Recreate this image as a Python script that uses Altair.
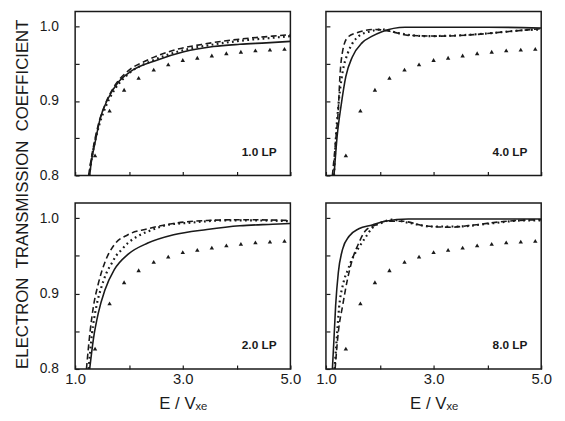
import altair as alt
import pandas as pd

# ---------------- data ----------------
X_TICKS = [1, 2, 3, 4, 5]
Y_TICKS = [0.8, 0.85, 0.9, 0.95, 1.0]
PANEL_LABELS = ["1.0 LP", "4.0 LP", "2.0 LP", "8.0 LP"]

# shared triangle series (same in every panel)
TRI_X = [1.37, 1.64, 1.91, 2.18, 2.46, 2.73, 3.0, 3.27, 3.54, 3.81, 4.08, 4.35, 4.62, 4.89]
TRI_Y = [0.827, 0.887, 0.915, 0.931, 0.942, 0.949, 0.955, 0.958, 0.961, 0.964, 0.966, 0.968, 0.969, 0.970]

# 1.0 LP
S1_X = [1.27, 1.30, 1.37, 1.46, 1.61, 1.80, 2.04, 2.53, 3.02, 3.57, 4.06, 4.55, 5.0]
S1_Y = [0.800, 0.818, 0.844, 0.875, 0.903, 0.925, 0.940, 0.955, 0.966, 0.973, 0.976, 0.978, 0.980]
D1_X = [1.25, 1.31, 1.43, 1.55, 1.73, 1.98, 2.35, 2.83, 3.45, 4.06, 4.67, 5.0]
D1_Y = [0.800, 0.827, 0.868, 0.894, 0.920, 0.940, 0.955, 0.968, 0.977, 0.983, 0.987, 0.989]
P1_X = [1.26, 1.32, 1.44, 1.56, 1.74, 2.0, 2.4, 2.9, 3.5, 4.1, 4.7, 5.0]
P1_Y = [0.800, 0.828, 0.866, 0.891, 0.916, 0.937, 0.953, 0.966, 0.975, 0.981, 0.985, 0.987]

# 4.0 LP
S4_X = [1.15, 1.21, 1.28, 1.37, 1.49, 1.67, 1.86, 2.04, 2.47, 3.0, 4.0, 5.0]
S4_Y = [0.800, 0.854, 0.893, 0.933, 0.959, 0.978, 0.987, 0.993, 0.999, 0.999, 0.999, 0.998]
D4_X = [1.12, 1.18, 1.23, 1.26, 1.31, 1.40, 1.55, 1.92, 2.22, 2.53, 3.14, 3.75, 4.36, 5.0]
D4_Y = [0.800, 0.846, 0.889, 0.933, 0.967, 0.985, 0.991, 0.996, 0.993, 0.988, 0.987, 0.989, 0.993, 0.997]
P4_X = [1.15, 1.18, 1.23, 1.31, 1.40, 1.49, 1.61, 1.80, 2.04, 2.35, 2.83, 3.45, 4.06, 4.67, 5.0]
P4_Y = [0.800, 0.845, 0.893, 0.939, 0.963, 0.977, 0.987, 0.993, 0.996, 0.991, 0.987, 0.988, 0.991, 0.995, 0.996]

# 2.0 LP
S2_X = [1.27, 1.34, 1.43, 1.55, 1.73, 1.98, 2.35, 2.83, 3.45, 4.06, 4.67, 5.0]
S2_Y = [0.800, 0.840, 0.874, 0.904, 0.932, 0.952, 0.967, 0.978, 0.985, 0.990, 0.992, 0.993]
D2_X = [1.21, 1.275, 1.34, 1.43, 1.55, 1.73, 1.98, 2.35, 2.83, 3.45, 4.06, 5.0]
D2_Y = [0.800, 0.848, 0.883, 0.913, 0.941, 0.965, 0.978, 0.986, 0.993, 0.997, 0.998, 0.997]
P2_X = [1.25, 1.31, 1.40, 1.49, 1.58, 1.67, 1.76, 1.86, 1.98, 2.16, 2.41, 2.71, 3.14, 3.75, 4.36, 5.0]
P2_Y = [0.800, 0.845, 0.885, 0.909, 0.927, 0.939, 0.950, 0.958, 0.967, 0.976, 0.984, 0.991, 0.994, 0.997, 0.997, 0.996]

# 8.0 LP
S8_X = [1.12, 1.15, 1.18, 1.23, 1.31, 1.43, 1.61, 1.86, 2.10, 2.53, 3.5, 5.0]
S8_Y = [0.800, 0.841, 0.884, 0.928, 0.959, 0.976, 0.986, 0.991, 0.996, 0.999, 0.999, 0.999]
D8_X = [1.17, 1.23, 1.31, 1.40, 1.49, 1.61, 1.73, 1.92, 2.10, 2.41, 2.83, 3.32, 3.75, 4.36, 5.0]
D8_Y = [0.800, 0.849, 0.884, 0.919, 0.945, 0.967, 0.983, 0.991, 0.996, 0.996, 0.990, 0.988, 0.991, 0.996, 0.998]
P8_X = [1.16, 1.20, 1.245, 1.32, 1.41, 1.50, 1.61, 1.73, 1.86, 2.04, 2.22, 2.53, 2.96, 3.45, 4.06, 4.67, 5.0]
P8_Y = [0.800, 0.840, 0.882, 0.913, 0.932, 0.948, 0.961, 0.974, 0.987, 0.994, 0.998, 0.994, 0.989, 0.989, 0.993, 0.997, 0.997]

LABEL_X = 4.42
LABEL_Y = 0.832

FONT = "Liberation Sans"
INK = "#1a1a1a"


def df(xs, ys):
    return pd.DataFrame({"x": xs, "y": ys})


def panel(label, solid, dashed, dotted, h, x_labels, y_labels, y_title):
    x_axis = alt.Axis(
        values=X_TICKS, grid=False, domain=False, orient="bottom",
        offset=-4, tickSize=4, tickColor=INK, tickWidth=1.2,
        labels=x_labels, labelFont=FONT, labelFontSize=15, labelColor=INK,
        labelPadding=3,
        labelExpr="datum.value % 2 == 1 ? format(datum.value, '.1f') : ''",
        labelFlush=False,
        title="E / V\u2093\u2091" if x_labels else None,
        titleFont=FONT, titleFontSize=17, titleFontWeight="normal",
        titleColor=INK, titlePadding=9,
    )
    y_kw = dict(
        values=Y_TICKS, grid=False, domain=False, orient="left",
        offset=-4, tickSize=4, tickColor=INK, tickWidth=1.2,
        labels=y_labels, labelFont=FONT, labelFontSize=14, labelColor=INK,
        labelPadding=17,
        labelExpr="round(datum.value * 100) % 10 == 0 ? format(datum.value, '.1f') : ''",
    )
    if y_title:
        y_kw.update(
            title="ELECTRON \u00a0TRANSMISSION \u00a0COEFFICIENT",
            titleFont=FONT, titleFontSize=17, titleFontWeight="normal",
            titleColor=INK, titleAngle=270, titleAlign="center",
            titleBaseline="middle", titleX=-57, titleY=184.5,
        )
    else:
        y_kw.update(title=None)
    y_axis = alt.Axis(**y_kw)

    xe = alt.X("x:Q", scale=alt.Scale(domain=[1, 5], nice=False, zero=False), axis=x_axis)
    ye = alt.Y("y:Q", scale=alt.Scale(domain=[0.8, 1.02], nice=False, zero=False), axis=y_axis)

    base_line = dict(clip=True, color=INK, interpolate="monotone")
    l_solid = alt.Chart(df(*solid)).mark_line(strokeWidth=1.6, **base_line).encode(x=xe, y=ye, order="x:Q")
    l_dash = alt.Chart(df(*dashed)).mark_line(strokeWidth=1.6, strokeDash=[6, 3.5], **base_line).encode(x=xe, y=ye, order="x:Q")
    l_dot = alt.Chart(df(*dotted)).mark_line(strokeWidth=2.2, strokeDash=[1.8, 3.4], **base_line).encode(x=xe, y=ye, order="x:Q")
    tri = alt.Chart(df(TRI_X, TRI_Y)).mark_point(
        shape="triangle-up", filled=True, size=20, color=INK, opacity=1, clip=True
    ).encode(x=xe, y=ye)
    txt = alt.Chart(pd.DataFrame({"x": [LABEL_X], "y": [LABEL_Y], "t": [label]})).mark_text(
        font=FONT, fontSize=12, fontWeight="bold", color=INK, align="center", baseline="middle"
    ).encode(x=xe, y=ye, text="t:N")

    return alt.layer(l_solid, l_dash, l_dot, tri, txt).properties(width=218, height=h)


p1 = panel(PANEL_LABELS[0], (S1_X, S1_Y), (D1_X, D1_Y), (P1_X, P1_Y), 166, False, True, True)
p4 = panel(PANEL_LABELS[1], (S4_X, S4_Y), (D4_X, D4_Y), (P4_X, P4_Y), 166, False, False, False)
p2 = panel(PANEL_LABELS[2], (S2_X, S2_Y), (D2_X, D2_Y), (P2_X, P2_Y), 168, True, True, False)
p8 = panel(PANEL_LABELS[3], (S8_X, S8_Y), (D8_X, D8_Y), (P8_X, P8_Y), 168, True, False, False)

chart = alt.concat(
    p1, p4, p2, p8, columns=2, spacing={"row": 28, "column": 36}, bounds="flush"
).properties(
    padding={"left": 5, "top": 0, "right": 4, "bottom": 0},
    background="white",
).configure_view(
    stroke=INK, strokeWidth=1.5
)

chart.save("out.html", embed_options={"renderer": "svg", "actions": False})
